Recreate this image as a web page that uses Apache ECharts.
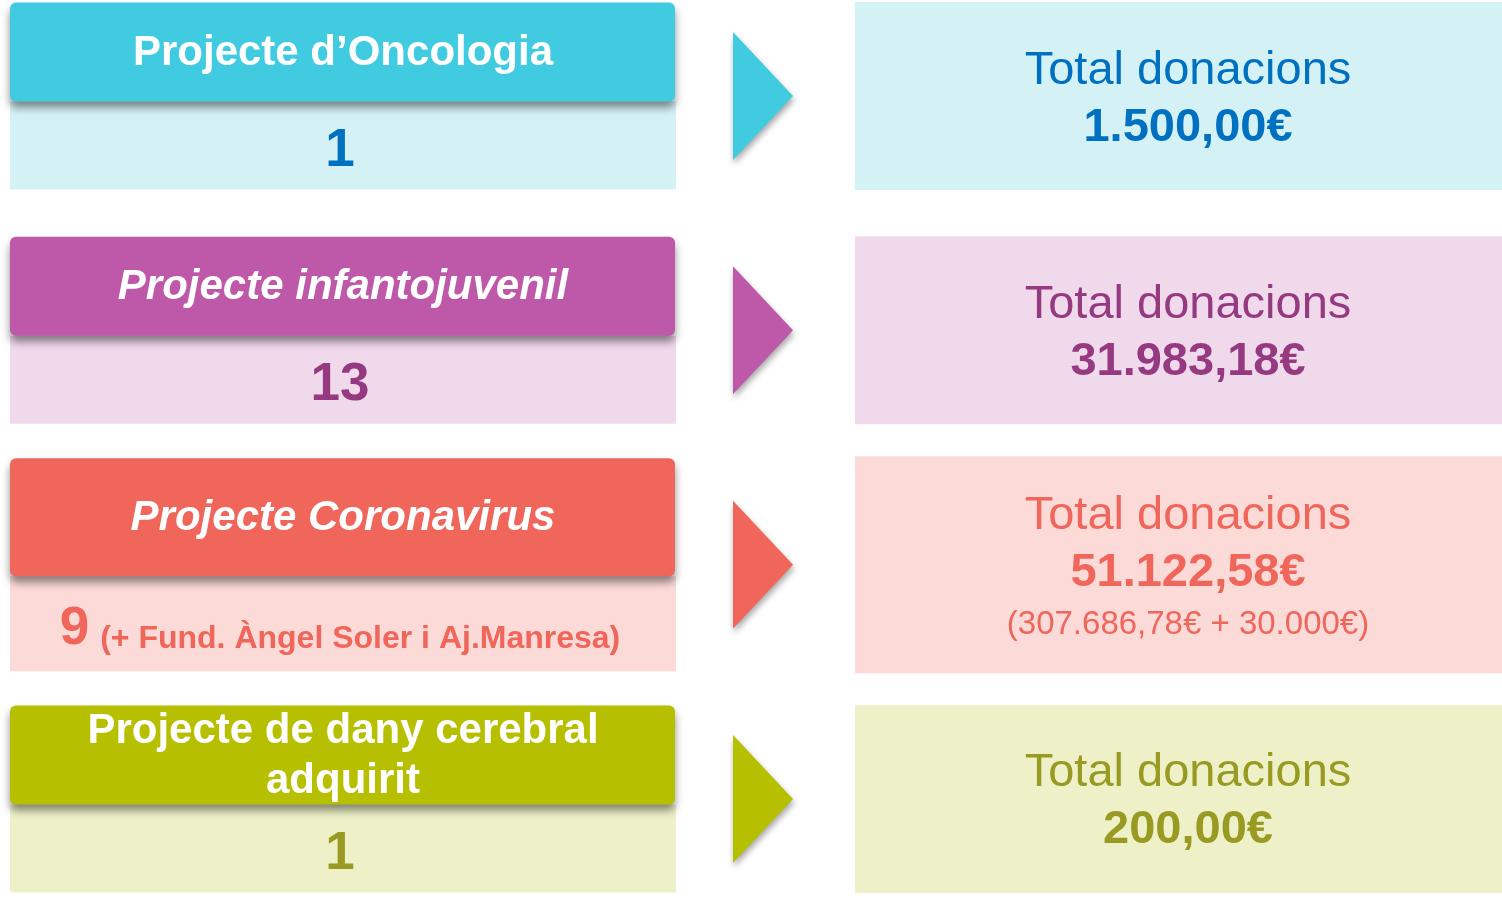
<!DOCTYPE html>
<html lang="ca">
<head>
<meta charset="utf-8">
<title>Projectes i donacions</title>
<script src="https://cdn.jsdelivr.net/npm/echarts@6/dist/echarts.min.js"></script>
<style>
    html, body { margin: 0; padding: 0; background: #ffffff; }
    #grafic { width: 1502px; height: 899px; }
</style>
</head>
<body>
<div id="grafic"></div>
<script>
// Dades de cada fila
const projectes = ['Projecte d’Oncologia', 'Projecte infantojuvenil', 'Projecte Coronavirus', 'Projecte de dany cerebral\nadquirit'];
const nombreProjectes = [1, 13, 9, 1];
const entitatsAfegides = ['', '', '(+ Fund. Àngel Soler i Aj.Manresa)', ''];
const totalDonacions = [1500, 31983.18, 51122.58, 200];
const detallDonacions = ['', '', '(307.686,78€ + 30.000€)', ''];

// Estils de cada fila
const colorsFort = ['#41CBE0', '#BE58A8', '#F0665A', '#B6BF00'];
const colorsSuau = ['#D4F2F6', '#F0D9EB', '#FCDAD8', '#EEF1C8'];
const colorsText = ['#0070C0', '#953A80', '#F0665A', '#989A22'];
const cursiva = [false, true, true, false];

const FONT = "'Liberation Sans', Arial, sans-serif";

const grafic = echarts.init(document.getElementById('grafic'));

function formatEuros(valor) {
    const [enter, decimals] = valor.toFixed(2).split('.');
    return enter.replace(/\B(?=(\d{3})+(?!\d))/g, '.') + ',' + decimals + '€';
}

function dibuixarFila(params, api) {
    const i = api.value(1);
    const [, centre] = api.coord([0, i]);
    const ambDetall = detallDonacions[i] !== '';

    // caixa de l'esquerra: capçalera + nombre
    const altCap = ambDetall ? 118 : 99;
    const altSuau = ambDetall ? 95 : 88;
    const dalt = centre - (altCap + altSuau) / 2;
    // caixa de la dreta
    const altDreta = ambDetall ? 217 : 188;

    let textNombre = '{n|' + nombreProjectes[i] + '}';
    if (entitatsAfegides[i]) textNombre += '{m|' + entitatsAfegides[i] + '}';

    let textTotal = '{t|Total donacions}\n{v|' + formatEuros(totalDonacions[i]) + '}';
    if (detallDonacions[i]) textTotal += '\n{d|' + detallDonacions[i] + '}';

    return {
        type: 'group',
        children: [
            {
                type: 'rect',
                shape: { x: 10, y: dalt + altCap, width: 666, height: altSuau },
                style: { fill: colorsSuau[i] }
            },
            {
                type: 'rect',
                shape: { x: 10, y: dalt, width: 665, height: altCap, r: 6 },
                style: {
                    fill: colorsFort[i],
                    shadowBlur: 8,
                    shadowOffsetY: 6,
                    shadowColor: 'rgba(0,0,0,0.45)'
                }
            },
            {
                type: 'text',
                style: {
                    x: 343,
                    y: dalt + altCap / 2 + 1,
                    text: projectes[i],
                    fill: '#ffffff',
                    fontFamily: FONT,
                    fontSize: 42,
                    fontWeight: 'bold',
                    fontStyle: cursiva[i] ? 'italic' : 'normal',
                    lineHeight: 50,
                    align: 'center',
                    verticalAlign: 'middle'
                }
            },
            {
                type: 'text',
                style: {
                    x: 340,
                    y: dalt + altCap + altSuau / 2 + 2,
                    text: textNombre,
                    align: 'center',
                    verticalAlign: 'middle',
                    rich: {
                        n: { fontFamily: FONT, fontSize: 53, fontWeight: 'bold', fill: colorsText[i], lineHeight: 60, verticalAlign: 'bottom' },
                        m: { fontFamily: FONT, fontSize: 32, fontWeight: 'bold', fill: colorsText[i], lineHeight: 56, verticalAlign: 'bottom', padding: [0, 0, 0, 11] }
                    }
                }
            },
            {
                type: 'polygon',
                shape: { points: [[733, centre - 64], [793, centre], [733, centre + 64]] },
                style: {
                    fill: colorsFort[i],
                    shadowBlur: 6,
                    shadowOffsetX: 1,
                    shadowOffsetY: 4,
                    shadowColor: 'rgba(0,0,0,0.35)'
                }
            },
            {
                type: 'rect',
                shape: { x: 855, y: centre - altDreta / 2, width: 647, height: altDreta },
                style: { fill: colorsSuau[i] }
            },
            {
                type: 'text',
                style: {
                    x: 1188,
                    y: centre + 3,
                    text: textTotal,
                    align: 'center',
                    verticalAlign: 'middle',
                    rich: {
                        t: { fontFamily: FONT, fontSize: 47, fill: colorsText[i], lineHeight: 57, align: 'center' },
                        v: { fontFamily: FONT, fontSize: 47, fontWeight: 'bold', fill: colorsText[i], lineHeight: 57, align: 'center' },
                        d: { fontFamily: FONT, fontSize: 33, fill: colorsText[i], lineHeight: 47, align: 'center' }
                    }
                }
            }
        ]
    };
}

grafic.setOption({
    animation: false,
    grid: { left: 0, right: 0, top: 0, bottom: 0 },
    xAxis: { type: 'value', min: 0, max: 1, show: false },
    // una fila per projecte, repartides al llarg de l'alçada
    yAxis: { type: 'value', inverse: true, min: -0.41, max: 3.427, show: false },
    series: [{
        type: 'custom',
        clip: false,
        renderItem: dibuixarFila,
        data: projectes.map((p, i) => [0, i])
    }]
});

window.addEventListener('resize', () => grafic.resize());
</script>
</body>
</html>
